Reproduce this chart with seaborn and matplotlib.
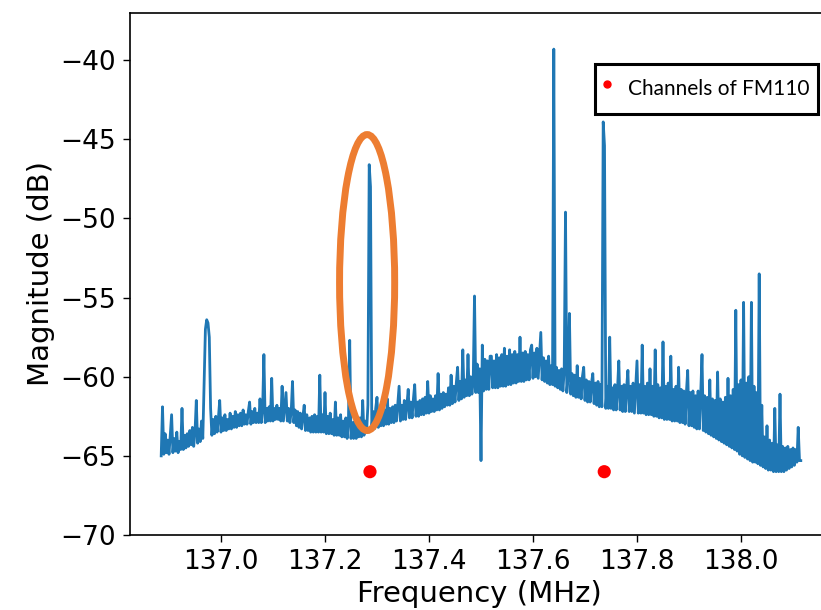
import numpy as np
import matplotlib
matplotlib.use("Agg")
import matplotlib.pyplot as plt
import seaborn as sns
import pandas as pd
from matplotlib.patches import Ellipse
from matplotlib.lines import Line2D

# ---- data ----
freq_start = 136.885   # MHz, first bin
freq_step = 0.0025     # MHz, bin spacing
magnitude = [
    # 136.885 - 136.9325
    -65.0, -61.9, -64.9, -63.6, -64.8, -64.0, -64.9, -63.7, -62.4, -64.8,
    -63.9, -64.7, -63.5, -64.8, -64.1, -64.6, -62.0, -64.6, -63.7, -64.5,
    # 136.935 - 136.9825
    -63.6, -64.4, -63.4, -64.3, -63.2, -64.4, -63.5, -61.5, -64.2, -63.3,
    -64.1, -62.8, -63.9, -60.5, -57.0, -56.4, -56.6, -57.5, -62.0, -63.7,
    # 136.985 - 137.0325
    -62.7, -63.6, -62.5, -63.5, -62.6, -61.5, -63.5, -62.6, -63.4, -62.4,
    -63.4, -62.7, -63.3, -62.3, -63.3, -62.5, -63.2, -62.2, -63.2, -62.4,
    # 137.035 - 137.0825
    -63.1, -62.3, -63.1, -62.1, -63.0, -62.4, -63.0, -62.2, -61.6, -63.0,
    -62.2, -62.9, -62.0, -62.9, -62.3, -62.9, -61.4, -62.9, -62.1, -58.6,
    # 137.085 - 137.1325
    -62.9, -62.0, -62.8, -61.9, -62.8, -60.1, -62.8, -62.0, -62.7, -61.8,
    -62.7, -62.0, -62.8, -60.6, -62.8, -61.9, -61.0, -62.8, -62.0, -62.9,
    # 137.135 - 137.1825
    -62.2, -60.3, -62.9, -62.1, -63.1, -62.2, -63.2, -62.3, -63.3, -62.5,
    -61.8, -63.4, -62.4, -63.4, -62.6, -63.5, -62.5, -63.5, -62.4, -63.5,
    # 137.185 - 137.2325
    -62.5, -63.5, -59.9, -63.5, -62.4, -63.5, -61.0, -63.6, -62.5, -63.6,
    -62.3, -63.6, -62.7, -63.7, -61.6, -63.7, -62.6, -63.7, -62.4, -63.8,
    # 137.235 - 137.2825
    -62.8, -63.8, -62.6, -63.9, -62.9, -57.7, -63.9, -62.9, -63.9, -62.8,
    -63.9, -62.9, -63.8, -62.6, -63.8, -61.5, -63.7, -62.8, -63.5, -61.8,
    # 137.285 - 137.3325
    -46.6, -48.0, -63.3, -62.2, -63.3, -62.0, -61.3, -63.2, -62.1, -63.1,
    -61.9, -63.1, -62.1, -63.0, -61.4, -63.0, -62.0, -62.9, -61.9, -62.9,
    # 137.335 - 137.3825
    -61.8, -62.8, -61.7, -60.6, -62.8, -61.8, -62.7, -61.5, -62.7, -61.8,
    -60.8, -62.6, -61.6, -62.6, -61.4, -60.5, -62.5, -61.6, -62.5, -61.5,
    # 137.385 - 137.4325
    -62.4, -61.4, -62.4, -61.3, -62.3, -60.3, -62.3, -61.2, -62.2, -61.4,
    -62.2, -61.2, -62.1, -59.8, -62.1, -61.1, -62.0, -61.0, -61.9, -61.1,
    # 137.435 - 137.4825
    -61.8, -60.7, -61.8, -59.9, -61.7, -60.6, -61.6, -60.4, -59.4, -61.5,
    -60.3, -61.4, -58.3, -61.3, -60.2, -61.2, -58.6, -61.2, -60.0, -61.1,
    # 137.485 - 137.5325
    -60.3, -54.9, -61.0, -59.2, -61.0, -59.5, -65.3, -58.0, -60.9, -58.9,
    -60.8, -59.0, -60.8, -58.7, -58.7, -60.7, -59.0, -60.7, -58.6, -60.7,
    # 137.535 - 137.5825
    -58.8, -60.6, -58.6, -60.6, -58.2, -60.6, -58.7, -60.5, -58.3, -60.5,
    -58.6, -60.4, -58.4, -60.4, -58.6, -60.3, -57.5, -60.3, -58.5, -60.3,
    # 137.585 - 137.6325
    -58.4, -60.2, -58.6, -60.2, -58.3, -58.0, -60.1, -58.5, -60.0, -58.2,
    -60.1, -58.7, -57.2, -60.2, -58.8, -60.3, -59.0, -60.4, -58.7, -60.5,
    # 137.635 - 137.6825
    -59.3, -60.5, -39.3, -60.6, -59.4, -60.7, -59.6, -60.8, -59.5, -60.9,
    -59.6, -49.6, -61.0, -60.0, -56.0, -61.1, -59.8, -61.2, -59.9, -61.3,
    # 137.685 - 137.7325
    -59.3, -61.3, -60.1, -61.4, -60.0, -59.4, -61.5, -60.2, -61.6, -60.3,
    -61.6, -60.4, -59.8, -61.7, -60.4, -61.8, -60.3, -61.9, -60.5, -61.9,
    # 137.735 - 137.7825
    -43.9, -45.4, -62.0, -60.6, -62.0, -57.5, -62.0, -60.7, -62.1, -60.5,
    -62.1, -60.8, -59.0, -62.1, -60.6, -62.2, -60.5, -62.2, -60.7, -59.6,
    # 137.785 - 137.8325
    -62.2, -60.6, -62.2, -60.4, -62.3, -60.7, -59.0, -62.3, -60.5, -62.3,
    -58.0, -62.3, -60.6, -62.4, -60.4, -62.4, -59.5, -62.4, -60.6, -62.5,
    # 137.835 - 137.8825
    -58.3, -62.5, -60.5, -62.6, -60.7, -62.6, -57.8, -62.7, -60.6, -62.7,
    -60.4, -62.7, -58.7, -62.8, -60.8, -62.8, -60.6, -62.8, -59.4, -62.9,
    # 137.885 - 137.9325
    -60.8, -62.9, -60.9, -63.0, -61.0, -59.6, -63.1, -61.0, -63.1, -60.9,
    -63.2, -61.2, -63.3, -60.9, -63.3, -61.1, -58.6, -63.4, -61.2, -63.5,
    # 137.935 - 137.9825
    -61.3, -63.6, -60.2, -63.7, -61.4, -63.8, -61.5, -63.9, -59.7, -64.0,
    -61.4, -64.1, -61.6, -64.2, -61.3, -64.3, -60.1, -64.4, -61.2, -64.5,
    # 137.985 - 138.0325
    -60.8, -64.6, -55.8, -64.7, -60.5, -64.9, -60.2, -65.0, -55.3, -65.1,
    -60.4, -65.2, -60.0, -65.3, -55.3, -65.4, -60.6, -65.4, -61.0, -65.5,
    # 138.035 - 138.0825
    -53.5, -65.6, -61.8, -65.7, -63.8, -65.8, -63.1, -65.9, -64.0, -65.9,
    -64.2, -66.0, -62.0, -66.0, -64.3, -66.0, -61.1, -66.0, -64.4, -66.0,
    # 138.085 - 138.115
    -64.5, -65.9, -64.4, -65.8, -64.6, -65.7, -64.5, -65.6, -64.6, -65.4,
    -63.2, -65.3, -65.3,
]
channel_freq = [137.2865, 137.737]   # MHz
channel_mag = [-66.0, -66.0]
channel_label = "Channels of FM110"
x_ticks = [137.0, 137.2, 137.4, 137.6, 137.8, 138.0]
y_ticks = [-70, -65, -60, -55, -50, -45, -40]
highlight_center = (137.281, -54.05)
highlight_size = (0.106, 18.7)

freq = freq_start + freq_step * np.arange(len(magnitude))
spec = pd.DataFrame({"freq": freq, "mag": magnitude})
chan = pd.DataFrame({"freq": channel_freq, "mag": channel_mag})

fig = plt.figure(figsize=(8.21, 6.10), dpi=100)
ax = fig.add_axes([130 / 821, 1 - 535 / 610, 699.4 / 821, (535 - 12.7) / 610])

sns.lineplot(data=spec, x="freq", y="mag", ax=ax, color="#1f77b4",
             linewidth=2.0, estimator=None, legend=False)
sns.scatterplot(data=chan, x="freq", y="mag", ax=ax, color="red", s=90,
                edgecolor="none", legend=False, zorder=3)

ell = Ellipse(highlight_center, width=highlight_size[0], height=highlight_size[1],
              fill=False, edgecolor="#ED7D31", linewidth=5, zorder=4)
ax.add_patch(ell)

ax.set_xlim(136.825, 138.17)
ax.set_ylim(-70, -37)
ax.set_xticks(x_ticks)
ax.set_xticklabels([f"{t:.1f}" for t in x_ticks])
ax.set_yticks(y_ticks)
ax.set_yticklabels([f"\u2212{abs(t)}" for t in y_ticks])
ax.tick_params(labelsize=19, length=5, width=1.0, pad=5)
ax.set_xlabel("Frequency (MHz)", fontsize=21)
ax.set_ylabel("Magnitude (dB)", fontsize=21)
for s in ax.spines.values():
    s.set_linewidth(1.2)

h = Line2D([], [], marker="o", linestyle="none", color="red", markersize=5)
leg = fig.legend([h], [channel_label], loc="upper left",
                 bbox_to_anchor=(595 / 821, 1 - 64 / 610),
                 prop={"family": "Lato", "size": 15},
                 frameon=True, fancybox=False, framealpha=1,
                 edgecolor="black", handlelength=0.3, handleheight=2.0,
                 handletextpad=0.85, borderpad=0.42, borderaxespad=0)
leg.get_frame().set_linewidth(2.2)

fig.savefig("out.png", dpi=100)
